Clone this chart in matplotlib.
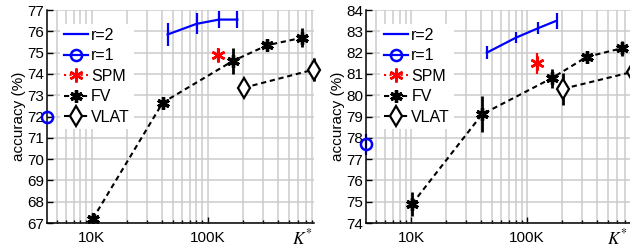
import numpy as np
import matplotlib
matplotlib.use("Agg")
import matplotlib.pyplot as plt

plt.rcParams['font.family'] = ['Liberation Sans', 'DejaVu Sans']
plt.rcParams['mathtext.fontset'] = 'stix'

# K* (feature length) for each method
r2_k = [45150, 80200, 125250, 180300]
r1_k = [4096]
spm_k = [122880]
fv_k = [10240, 40960, 163840, 327680, 655360]
vlat_k = [204800, 819200]

# left panel accuracies (%)
r2_a = [75.85, 76.35, 76.55, 76.55]
r2_a_err = [0.55, 0.5, 0.4, 0.4]
r1_a = [72.0]
r1_a_err = [0.0]
spm_a = [74.9]
spm_a_err = [0.3]
fv_a = [67.2, 72.65, 74.6, 75.35, 75.7]
fv_a_err = [0.2, 0.15, 0.6, 0.15, 0.45]
vlat_a = [73.35, 74.2]
vlat_a_err = [0.1, 0.55]

# right panel accuracies (%)
r2_b = [82.0, 82.7, 83.15, 83.5]
r2_b_err = [0.3, 0.27, 0.27, 0.37]
r1_b = [77.7]
r1_b_err = [0.5]
spm_b = [81.5]
spm_b_err = [0.5]
fv_b = [74.9, 79.1, 80.8, 81.8, 82.2]
fv_b_err = [0.55, 0.85, 0.45, 0.1, 0.35]
vlat_b = [80.3, 81.1]
vlat_b_err = [0.75, 0.4]

W, H = 630, 249
fig = plt.figure(figsize=(W / 100, H / 100), dpi=100)

DEC = 116.0          # pixels per decade
LOG0 = np.log10(4096)
GRID = '#cccccc'
AST = (6, 2, 0)


def make_axes(x0, x1, ylo, yhi):
    ax = fig.add_axes([x0 / W, 26 / H, (x1 - x0) / W, 213 / H])
    ax.set_xscale('log')
    ax.set_xlim(4096, 10 ** (LOG0 + (x1 - x0) / DEC))
    ax.set_ylim(ylo, yhi)
    ax.set_yticks(np.arange(ylo, yhi + 1))
    ax.set_xticks([1e4, 1e5])
    ax.set_xticklabels(['10K', '100K'])
    ax.xaxis.set_minor_formatter(plt.NullFormatter())
    ax.tick_params(which='both', direction='in', labelsize=11, width=1)
    ax.tick_params(which='major', length=4)
    ax.tick_params(which='minor', length=2)
    ax.tick_params(axis='x', pad=6)
    ax.tick_params(axis='y', pad=2)
    ax.grid(True, which='major', color=GRID, lw=1.1)
    ax.grid(True, which='minor', axis='x', color=GRID, lw=1.1)
    ax.set_axisbelow(True)
    for s in ['top', 'right']:
        ax.spines[s].set_visible(False)
    ax.spines['left'].set_linewidth(1.1)
    ax.spines['bottom'].set_linewidth(1.1)
    ax.set_ylabel('accuracy (%)', fontsize=11, labelpad=1)
    return ax


def draw(ax, kx, r2, r2e, r1, r1e, spm, spme, fv, fve, vlat, vlate):
    h_r2, = ax.plot(r2_k, r2, color='blue', lw=1.6, label='r=2')
    ax.errorbar(r2_k, r2, yerr=r2e, fmt='none', ecolor='blue', elinewidth=1.6, capsize=0)
    ax.errorbar(r1_k, r1, yerr=r1e, fmt='none', ecolor='blue', elinewidth=1.6, capsize=0, clip_on=False)
    h_r1, = ax.plot(r1_k, r1, color='blue', lw=1.6, marker='o', ms=8, mfc='none', mew=1.8,
                    label='r=1', clip_on=False, zorder=5)
    ax.errorbar(spm_k, spm, yerr=spme, fmt='none', ecolor='red', elinewidth=1.6, capsize=0)
    h_spm, = ax.plot(spm_k, spm, color='red', ls=':', marker=AST, ms=10, mew=1.8, label='SPM')
    ax.errorbar(fv_k, fv, yerr=fve, fmt='none', ecolor='black', elinewidth=2, capsize=0)
    h_fv, = ax.plot(fv_k, fv, color='black', lw=1.5, ls=(0, (2.5, 1.8)), marker=AST, ms=9, mew=2.4,
                    label='FV')
    ax.errorbar(vlat_k, vlat, yerr=vlate, fmt='none', ecolor='black', elinewidth=2, capsize=0,
                clip_on=False)
    h_vlat, = ax.plot(vlat_k, vlat, color='black', lw=1.5, ls=(0, (2.5, 1.8)), marker='d', ms=10,
                      mfc='white', mew=1.6, label='VLAT', clip_on=False, zorder=5)
    leg = ax.legend(handles=[h_r2, h_r1, h_spm, h_fv, h_vlat], loc='upper left',
                    bbox_to_anchor=(0.05, 0.935), fontsize=11.5, frameon=True, framealpha=1,
                    edgecolor='none', facecolor='white', handlelength=1.5, handletextpad=0.2,
                    labelspacing=0.34, borderpad=0.25, borderaxespad=0, fancybox=False)
    leg.set_zorder(4)
    ax.text(kx, -0.066, r'$K^{*}$', transform=ax.transAxes, fontsize=12.5, ha='center', va='center')


ax1 = make_axes(46.7, 313.5, 67, 77)
draw(ax1, 0.957, r2_a, r2_a_err, r1_a, r1_a_err, spm_a, spm_a_err, fv_a, fv_a_err, vlat_a, vlat_a_err)

ax2 = make_axes(366, 650, 74, 84)
draw(ax2, 0.884, r2_b, r2_b_err, r1_b, r1_b_err, spm_b, spm_b_err, fv_b, fv_b_err, vlat_b, vlat_b_err)

fig.savefig('out.png', dpi=100)
